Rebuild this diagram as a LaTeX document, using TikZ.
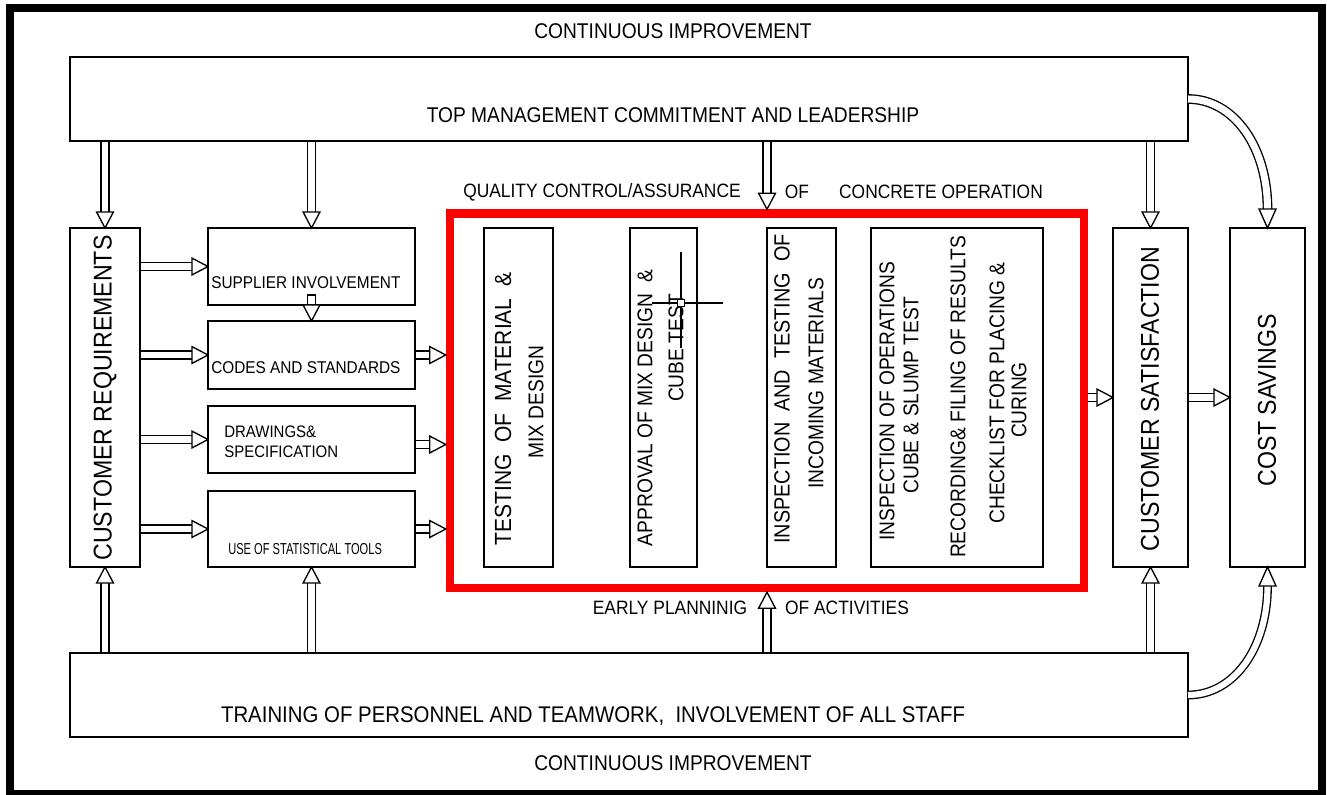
\documentclass[tikz,border=0pt]{standalone}
\usepackage{fontspec}
\setmainfont{Liberation Sans}[FakeStretch=0.9]
\newfontfamily\narrowfont{Liberation Sans}[FakeStretch=0.7]
\usetikzlibrary{calc}

% hollow block arrow: two shaft lines and an open triangular head
\newcommand\hollowarrow[2]{%
  \path (#1) coordinate (ha-s) (#2) coordinate (ha-e);
  \path ($(ha-e)!12pt!(ha-s)$) coordinate (ha-h);
  \draw[conn] ($(ha-s)!3.1pt!90:(ha-e)$) -- ($(ha-h)!3.1pt!90:(ha-e)$);
  \draw[conn] ($(ha-s)!3.1pt!-90:(ha-e)$) -- ($(ha-h)!3.1pt!-90:(ha-e)$);
  \draw[conn,fill=white] ($(ha-h)!6.3pt!90:(ha-e)$) -- (ha-e) -- ($(ha-h)!6.3pt!-90:(ha-e)$) -- cycle;
}

\tikzset{
  conn/.style={draw=black, line width=1pt, line join=miter},
  box/.style={draw=black, line width=1pt, inner sep=0pt, outer sep=0pt},
  sz/.style 2 args={minimum width=#1*0.75pt, minimum height=#2*0.75pt},
  txt/.style={inner sep=0pt, outer sep=0pt, font=\fontsize{16}{19}\selectfont},
  vtxt/.style={inner sep=0pt, rotate=90, font=\fontsize{19.3}{22}\selectfont},
  itxt/.style={inner sep=0pt, rotate=90, font=\fontsize{16}{19}\selectfont},
  stxt/.style={inner sep=0pt, anchor=west, font=\fontsize{12.8}{15}\selectfont},
  htxt/.style={inner sep=0pt, font=\fontsize{14.5}{17}\selectfont},
  qabox/.style={draw=red, line width=6.3pt, inner sep=0pt},
}

\begin{document}
\begin{tikzpicture}[x=0.75pt, y=-0.75pt]
\useasboundingbox (0,0) rectangle (1327,794);
\fill[white] (0,0) rectangle (1327,794);

% heavy outer frame
\draw[line width=6pt] (10,8) rectangle (1322,794);

% main boxes
\node[box, sz={1118}{84}] (top) at (629,99) {};
\node[box, sz={1118}{84}] (bot) at (629,695) {};
\node[box, sz={70}{339}] (cr) at (105,397.5) {};
\node[box, sz={207}{77}] (sup) at (311.5,266.5) {};
\node[box, sz={207}{68}] (codes) at (311.5,355) {};
\node[box, sz={207}{67}] (drw) at (311.5,439.5) {};
\node[box, sz={207}{76}] (stats) at (311.5,529) {};
\node[qabox, sz={634}{374.5}] (qa) at (767,400.75) {};
\node[box, sz={69}{339}] (t1) at (518.5,397.5) {};
\node[box, sz={67}{339}] (t2) at (663.5,397.5) {};
\node[box, sz={69}{339}] (t3) at (801.5,397.5) {};
\node[box, sz={172}{339}] (t4) at (957,397.5) {};
\node[box, sz={75}{339}] (cs) at (1150.5,397.5) {};
\node[box, sz={75}{339}] (cost) at (1267.5,397.5) {};

% texts
\node[txt] (ci1) at (673,31) {CONTINUOUS IMPROVEMENT};
\node[txt] (ci2) at (673,763) {CONTINUOUS IMPROVEMENT};
\node[txt] (tmt) at (673,115) {TOP MANAGEMENT COMMITMENT AND LEADERSHIP};
\node[txt, font=\fontsize{17}{20}\selectfont] (trt) at (593,716) {TRAINING OF PERSONNEL AND TEAMWORK,\ \ INVOLVEMENT OF ALL STAFF};
\node[vtxt] (crt) at (105,398) {CUSTOMER REQUIREMENTS};
\node[vtxt] (cst) at (1150,399) {CUSTOMER SATISFACTION};
\node[vtxt] (cot) at (1267,400) {COST SAVINGS};
\node[stxt] (supt) at (211,283) {SUPPLIER INVOLVEMENT};
\node[stxt] (codt) at (211,368) {CODES AND STANDARDS};
\node[stxt, align=left, font=\fontsize{12.5}{15}\selectfont] (drwt) at (224,442) {DRAWINGS\&\\SPECIFICATION};
\node[inner sep=0pt, anchor=west, font=\narrowfont\fontsize{11.9}{14}\selectfont] (stt) at (228,549) {USE OF STATISTICAL TOOLS};
\node[htxt] (qh1) at (602,192) {QUALITY CONTROL/ASSURANCE};
\node[htxt] (qh2) at (797,192) {OF};
\node[htxt] (qh3) at (941,192) {CONCRETE OPERATION};
\node[htxt] (ep1) at (670,608) {EARLY PLANNINIG};
\node[htxt] (ep2) at (847,608) {OF ACTIVITIES};

\node[itxt, font=\fontsize{17.5}{20}\selectfont] (t1a) at (503,409) {TESTING\ \ OF\ \ MATERIAL\ \ \&};
\node[itxt] (t1b) at (536,402) {MIX DESIGN};
\node[itxt] (t2a) at (645,408) {APPROVAL OF MIX DESIGN \ \&};
\node[itxt] (t2b) at (676,348) {CUBE TEST};
\node[itxt, font=\fontsize{16.5}{19}\selectfont] (t3a) at (782,389) {INSPECTION\ \ AND\ \ TESTING\ \ OF};
\node[itxt] (t3b) at (816,383) {INCOMING MATERIALS};
\node[itxt] (t4a) at (887,401) {INSPECTION OF OPERATIONS};
\node[itxt] (t4b) at (911,395) {CUBE \& SLUMP TEST};
\node[itxt] (t4c) at (958,397) {RECORDING\& FILING OF RESULTS};
\node[itxt] (t4d) at (997,393) {CHECKLIST FOR PLACING \&};
\node[itxt] (t4e) at (1019,400) {CURING};

% crosshair marker inside the approval box
\draw[line width=0.8pt] (652,303) -- (723,303);
\draw[line width=0.8pt] (681,252) -- (681,348);
\draw[line width=0.8pt, fill=white] (677.5,299.5) rectangle (684.5,306.5);

% arrows from top management
\hollowarrow{cr.north |- top.south}{cr.north}
\hollowarrow{sup.north |- top.south}{sup.north}
\hollowarrow{qa.north |- top.south}{qa.north}
\hollowarrow{cs.north |- top.south}{cs.north}

% arrows from training
\hollowarrow{cr.south |- bot.north}{cr.south}
\hollowarrow{stats.south |- bot.north}{stats.south}
\hollowarrow{qa.south |- bot.north}{qa.south}
\hollowarrow{cs.south |- bot.north}{cs.south}

% customer requirements to the left-hand boxes
\hollowarrow{cr.east |- sup.west}{sup.west}
\hollowarrow{cr.east |- codes.west}{codes.west}
\hollowarrow{cr.east |- drw.west}{drw.west}
\hollowarrow{cr.east |- stats.west}{stats.west}

% left-hand boxes into the quality block
\hollowarrow{codes.east}{codes.east -| qa.west}
\coordinate (drwout) at ($(drw.east)+(0,5)$);
\hollowarrow{drwout}{drwout -| qa.west}
\hollowarrow{stats.east}{stats.east -| qa.west}

% supplier involvement to codes and standards
\coordinate (supout) at ($(sup.south)+(0,-10)$);
\hollowarrow{supout}{codes.north}
\draw[conn] ($(supout)+(-4.13,0)$) -- ($(supout)+(4.13,0)$);

% quality block to satisfaction to savings
\hollowarrow{qa.east |- cs.west}{cs.west}
\hollowarrow{cs.east}{cost.west}

% curved feeds into cost savings
\coordinate (ctop) at ($(cost.north)+(0,-19)$);
\draw[conn, double, double distance=5.3pt] (top.east) .. controls ($(top.east)+(46,0)$) and ($(ctop)+(0,-62)$) .. (ctop);
\draw[conn, fill=white] ($(ctop)+(-8.5,0)$) -- (cost.north) -- ($(ctop)+(8.5,0)$) -- cycle;
\coordinate (cbot) at ($(cost.south)+(0,19)$);
\draw[conn, double, double distance=4.6pt] (bot.east) .. controls ($(bot.east)+(46,0)$) and ($(cbot)+(0,62)$) .. (cbot);
\draw[conn, fill=white] ($(cbot)+(-8.5,0)$) -- (cost.south) -- ($(cbot)+(8.5,0)$) -- cycle;
\end{tikzpicture}
\end{document}
